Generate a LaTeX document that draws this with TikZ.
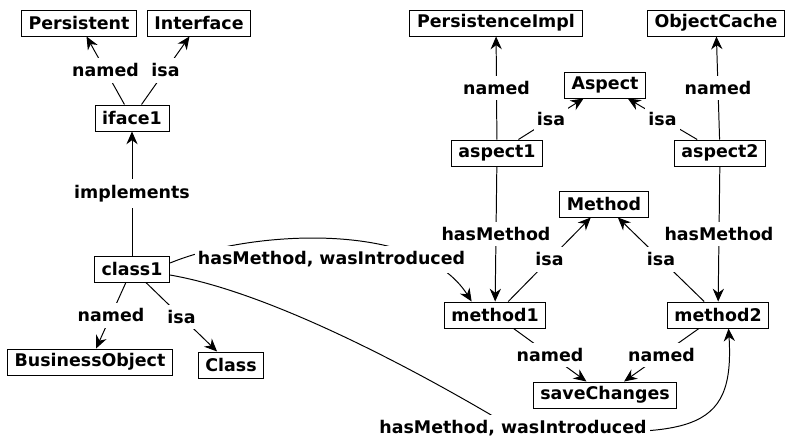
\documentclass[tikz,border=0pt]{standalone}
\usepackage{fontspec}
\setmainfont{DejaVu Sans}
\usetikzlibrary{arrows.meta}

\begin{document}
\begin{tikzpicture}[>={Stealth[length=0.32cm,width=0.28cm]},line width=0.7pt,
		font={\fontsize{12.4}{14}\selectfont\bfseries}]
		\tikzstyle{term}=[rectangle,draw=black,inner xsep=0.18cm,inner ysep=0.05cm,minimum height=0.65cm]
		\tikzstyle{rel}=[fill=white,inner xsep=0.08cm,inner ysep=0.14cm]
		\useasboundingbox (0,0) rectangle (19.65,-10.975);
		\begin{scope}
		\node[term] (Persistent)      at (1.975,-0.575)  {Persistent};
		\node[term] (Interface)       at (4.975,-0.575)  {Interface};
		\node[term] (iface1)          at (3.3,-2.95)     {iface1};
		\node[term] (class1)          at (3.3,-6.725)    {class1};
		\node[term] (BusinessObject)  at (2.25,-9.05)    {BusinessObject};
		\node[term] (Class)           at (5.775,-9.125)  {Class};
		\node[term] (PersistenceImpl) at (12.4,-0.575)   {PersistenceImpl};
		\node[term] (ObjectCache)     at (17.9,-0.575)   {ObjectCache};
		\node[term] (Aspect)          at (15.125,-2.125) {Aspect};
		\node[term] (aspect1)         at (12.425,-3.825) {aspect1};
		\node[term] (aspect2)         at (18.0,-3.825)   {aspect2};
		\node[term] (Method)          at (15.1,-5.1)     {Method};
		\node[term] (method1)         at (12.375,-7.875) {method1};
		\node[term] (method2)         at (17.95,-7.875)  {method2};
		\node[term] (saveChanges)     at (15.125,-9.875) {saveChanges};
		\end{scope}

		\path[->]
		(iface1) edge node[rel] {named} (Persistent)
		(iface1) edge node[rel] {isa} (Interface)
		(class1) edge node[rel] {implements} (iface1)
		(class1) edge node[rel] {named} (BusinessObject)
		(class1) edge node[rel] {isa} (Class)
		(aspect1) edge node[rel] {named} (PersistenceImpl)
		(aspect1) edge node[rel] {isa} (Aspect)
		(aspect2) edge node[rel] {named} (ObjectCache)
		(aspect2) edge node[rel] {isa} (Aspect)
		(aspect1) edge node[rel] {hasMethod} (method1)
		(aspect2) edge node[rel] {hasMethod} (method2)
		(method1) edge node[rel] {isa} (Method)
		(method2) edge node[rel] {isa} (Method)
		(method1) edge node[rel] {named} (saveChanges)
		(method2) edge node[rel] {named} (saveChanges)
		;

		\draw[->] (class1.9) .. controls (6.25,-5.75) and (10.5,-5.5) .. (method1.150)
		node[rel,pos=0.5,yshift=-0.5cm] {hasMethod, wasIntroduced};
		\draw[->] (class1.-9) .. controls (7.0,-7.35) and (11.0,-9.6) .. (12.825,-10.7)
		node[rel] {hasMethod, wasIntroduced}
		.. controls (17.25,-10.95) and (18.375,-10.875) .. (method2.-52);
\end{tikzpicture}
\end{document}
